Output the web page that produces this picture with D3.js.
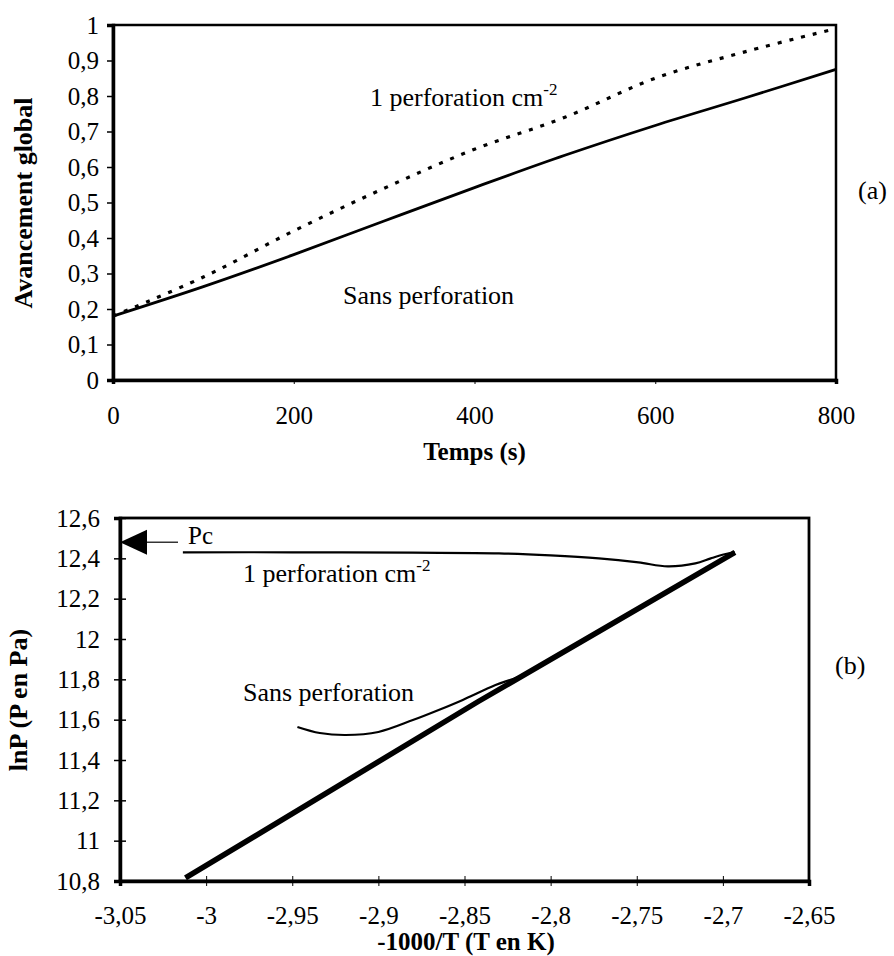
<!DOCTYPE html>
<html>
<head>
<meta charset="utf-8">
<script src="https://cdn.jsdelivr.net/npm/d3@7"></script>
<style>
  body { margin: 0; background: #fff; }
  svg, svg text { font-family: "Liberation Serif", "DejaVu Serif", serif !important; fill: #000; }
</style>
</head>
<body>
<svg id="mainChart" width="894" height="956"></svg>
<script>
// (a) avancement global vs temps
var tempsA = [0, 100, 200, 300, 400, 500, 600, 700, 800];
var sansPerfA = [0.18, 0.263, 0.353, 0.448, 0.542, 0.633, 0.717, 0.795, 0.875];
var unePerfA = [0.18, 0.29, 0.42, 0.54, 0.65, 0.74, 0.85, 0.925, 0.99];
var xTicksA = [0, 200, 400, 600, 800];
var yTicksA = [0, 0.1, 0.2, 0.3, 0.4, 0.5, 0.6, 0.7, 0.8, 0.9, 1];

// (b) lnP vs -1000/T
var droiteX = [-3.012, -2.842, -2.693];
var droiteY = [10.815, 11.69, 12.43];
var unePerfBX = [-3.0135, -2.95, -2.88, -2.83, -2.80, -2.772, -2.749, -2.732, -2.716, -2.707, -2.699, -2.693];
var unePerfBY = [12.43, 12.43, 12.428, 12.425, 12.415, 12.40, 12.38, 12.36, 12.375, 12.40, 12.42, 12.43];
var sansPerfBX = [-2.947, -2.934, -2.919, -2.900, -2.880, -2.865, -2.851, -2.832, -2.819, -2.80];
var sansPerfBY = [11.564, 11.534, 11.524, 11.539, 11.598, 11.648, 11.698, 11.772, 11.812, 11.9];
var pcValue = 12.48;
var xTicksB = [-3.05, -3, -2.95, -2.9, -2.85, -2.8, -2.75, -2.7, -2.65];
var yTicksB = [10.8, 11, 11.2, 11.4, 11.6, 11.8, 12, 12.2, 12.4, 12.6];

var serif = '"Liberation Serif", "DejaVu Serif", serif';
var svg = d3.select("#mainChart");

function virgule(d) {
  return String(+d.toFixed(2)).replace(".", ",");
}

function zip(xs, ys) {
  return xs.map(function(x, i) { return [x, ys[i]]; });
}

function label(g, x, y, size, txt) {
  return g.append("text").attr("x", x).attr("y", y)
    .attr("font-family", serif).style("font-size", size + "px").text(txt);
}

// ---------- chart (a) ----------
var xA = d3.scaleLinear().domain([0, 800]).range([113, 836]);
var yA = d3.scaleLinear().domain([0, 1]).range([380, 25]);

var gA = svg.append("g");

gA.append("rect")
  .attr("x", xA(0)).attr("y", yA(1))
  .attr("width", xA(800) - xA(0)).attr("height", yA(0) - yA(1))
  .attr("fill", "none").attr("stroke", "#000").attr("stroke-width", 2.5);

var axYA = gA.append("g")
  .attr("transform", "translate(" + xA(0) + ",0)")
  .call(d3.axisLeft(yA).tickValues(yTicksA).tickFormat(virgule).tickSizeOuter(0).tickSize(6).tickPadding(8));
var axXA = gA.append("g")
  .attr("transform", "translate(0," + yA(0) + ")")
  .call(d3.axisBottom(xA).tickValues(xTicksA).tickFormat(virgule).tickSizeOuter(0).tickSize(4).tickPadding(22));
axXA.selectAll(".tick line").attr("stroke-width", 1);

// Pc tick lines & labels
var lineA = d3.line()
  .x(function(d) { return xA(d[0]); })
  .y(function(d) { return yA(d[1]); })
  .curve(d3.curveCatmullRom);

gA.append("path")
  .datum(zip(tempsA, sansPerfA))
  .attr("d", lineA)
  .attr("fill", "none").attr("stroke", "#000").attr("stroke-width", 2.8);

gA.append("path")
  .datum(zip(tempsA, unePerfA))
  .attr("d", lineA)
  .attr("fill", "none").attr("stroke", "#000").attr("stroke-width", 3.2)
  .attr("stroke-dasharray", "4 8");

var lblA = label(gA, 370, 106, 26, null);
lblA.append("tspan").text("1 perforation cm");
lblA.append("tspan").attr("dy", -11).style("font-size", "17px").text("-2");

label(gA, 343, 304, 26, "Sans perforation");

label(gA, 0, 0, 26, "Avancement global")
  .attr("x", null).attr("y", null)
  .attr("transform", "translate(32,203) rotate(-90)")
  .attr("text-anchor", "middle")
  .style("font-weight", "bold");

label(gA, (xA(0) + xA(800)) / 2, 460, 25, "Temps (s)")
  .attr("text-anchor", "middle")
  .style("font-weight", "bold");

label(gA, 858, 199, 26, "(a)");

// ---------- chart (b) ----------
var xB = d3.scaleLinear().domain([-3.05, -2.65]).range([120, 809]);
var yB = d3.scaleLinear().domain([10.8, 12.6]).range([881, 518]);

var gB = svg.append("g");

gB.append("rect")
  .attr("x", xB(-3.05)).attr("y", yB(12.6))
  .attr("width", xB(-2.65) - xB(-3.05)).attr("height", yB(10.8) - yB(12.6))
  .attr("fill", "none").attr("stroke", "#000").attr("stroke-width", 2.8);

var axYB = gB.append("g")
  .attr("transform", "translate(" + xB(-3.05) + ",0)")
  .call(d3.axisLeft(yB).tickValues(yTicksB).tickFormat(virgule).tickSizeOuter(0).tickSize(6).tickPadding(14));
axYB.selectAll(".tick line").attr("x2", 6).attr("x1", -6);
var axXB = gB.append("g")
  .attr("transform", "translate(0," + yB(10.8) + ")")
  .call(d3.axisBottom(xB).tickValues(xTicksB).tickFormat(virgule).tickSizeOuter(0).tickSize(5).tickPadding(20));
axXB.selectAll(".tick line").attr("y1", -5).attr("stroke-width", 1);

[axYA, axXA, axYB, axXB].forEach(function(ax) {
  ax.attr("font-family", serif);
  ax.select(".domain").attr("stroke", "#000").attr("stroke-width", 3.5);
  ax.selectAll(".tick line").attr("stroke", "#000");
  ax.selectAll("text").attr("font-family", serif).style("font-size", "25px").attr("fill", "#000");
});
axYA.selectAll(".tick line").attr("stroke-width", 1.5);
axYB.selectAll(".tick line").attr("stroke-width", 1.5);

var lineB = d3.line()
  .x(function(d) { return xB(d[0]); })
  .y(function(d) { return yB(d[1]); })
  .curve(d3.curveCatmullRom);

gB.append("path")
  .datum(zip(unePerfBX, unePerfBY))
  .attr("d", lineB)
  .attr("fill", "none").attr("stroke", "#000").attr("stroke-width", 2.2);

gB.append("path")
  .datum(zip(sansPerfBX, sansPerfBY))
  .attr("d", lineB)
  .attr("fill", "none").attr("stroke", "#000").attr("stroke-width", 2.2);

gB.append("path")
  .datum(zip(droiteX, droiteY))
  .attr("d", d3.line().x(function(d) { return xB(d[0]); }).y(function(d) { return yB(d[1]); }))
  .attr("fill", "none").attr("stroke", "#000").attr("stroke-width", 5.5);

// fleche Pc sur l'axe
var pcY = yB(pcValue);
var x0 = xB(-3.05);
gB.append("path")
  .attr("d", "M" + x0 + "," + pcY + "L" + (x0 + 27) + "," + (pcY - 12.5) + "L" + (x0 + 27) + "," + (pcY + 12.5) + "Z")
  .attr("fill", "#000");
gB.append("line")
  .attr("x1", x0 + 27).attr("x2", x0 + 58).attr("y1", pcY).attr("y2", pcY)
  .attr("stroke", "#000").attr("stroke-width", 1.2);
label(gB, 188, 544, 25, "Pc");

var lblB = label(gB, 243, 582, 26, null);
lblB.append("tspan").text("1 perforation cm");
lblB.append("tspan").attr("dy", -11).style("font-size", "17px").text("-2");

label(gB, 243, 701, 26, "Sans perforation");

label(gB, 0, 0, 26, "lnP (P en Pa)")
  .attr("x", null).attr("y", null)
  .attr("transform", "translate(27,700) rotate(-90)")
  .attr("text-anchor", "middle")
  .style("font-weight", "bold");

label(gB, 466, 950, 25, "-1000/T (T en K)")
  .attr("text-anchor", "middle")
  .style("font-weight", "bold");

label(gB, 835, 674, 26, "(b)");
</script>
</body>
</html>
